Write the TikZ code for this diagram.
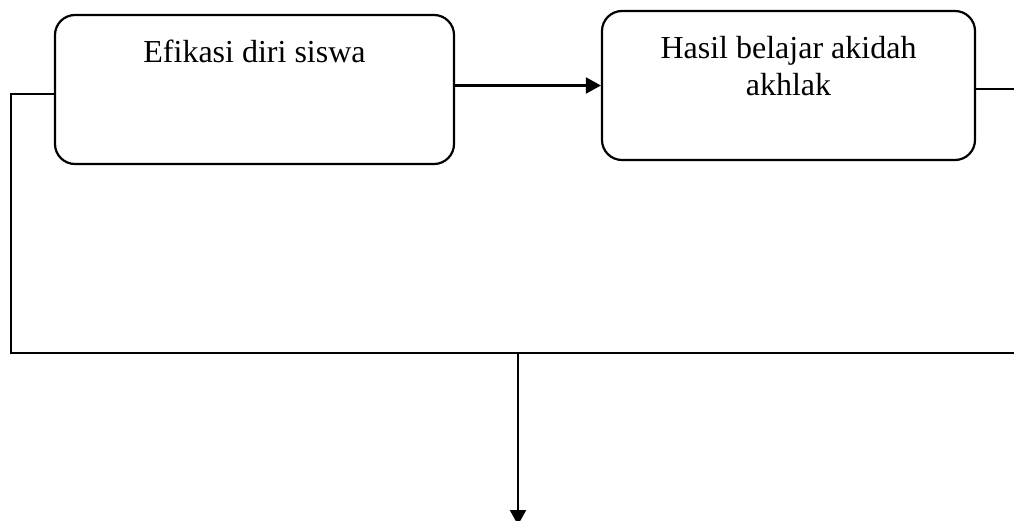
\documentclass[tikz,border=0pt]{standalone}
\usepackage{fontspec}
\setmainfont{Liberation Serif}
\usetikzlibrary{arrows.meta,calc}
\begin{document}
\begin{tikzpicture}[x=1pt,y=-1pt,
  box/.style={draw, line width=2.2pt, rounded corners=20pt, inner sep=0pt},
  lbl/.style={font=\fontsize{32}{37}\selectfont, align=center, inner sep=0pt, anchor=base},
  conn/.style={line width=2.2pt},
  arr/.style={conn, -{Triangle[length=15pt,width=16pt]}}]
\useasboundingbox (0,0) rectangle (1014,521);
\node[box, minimum width=399pt, minimum height=149pt] (b1) at (254.5,89.5) {};
\node[box, minimum width=373pt, minimum height=149pt] (b2) at (788.5,85.5) {};
\node[lbl] (t1) at ($(b1.north)+(0,49)$) {Efikasi diri siswa};
\node[lbl] (t2) at ($(b2.north)+(0,86)$) {Hasil belajar akidah\\akhlak};
\coordinate (lt) at (11,94);
\coordinate (lb) at (11,353);
\coordinate (rb) at (1016,353);
\coordinate (re) at (1016,89);
\coordinate (mid) at (518,353);
\coordinate (down) at (518,525);
\draw[arr] (b2.west -| b1.east) -- (b2.west);
\draw[conn] (b1.west |- lt) -- (lt) -- (lb) -- (rb);
\draw[conn] (b2.east |- re) -- (re);
\draw[arr] (mid) -- (down);
\end{tikzpicture}
\end{document}
